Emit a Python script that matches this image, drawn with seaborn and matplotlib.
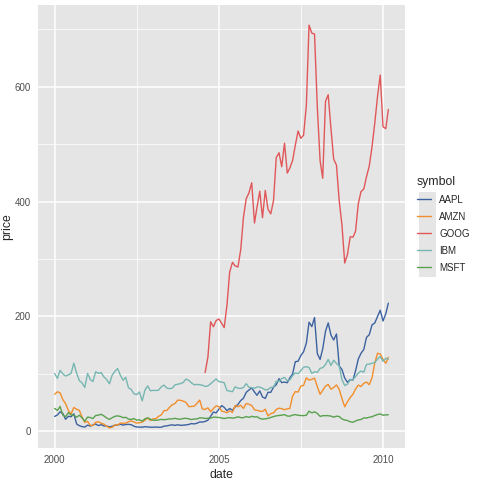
import numpy as np
import pandas as pd
import seaborn as sns
import matplotlib
matplotlib.use("Agg")
import matplotlib.pyplot as plt
import matplotlib.dates as mdates
from matplotlib.patches import Rectangle
from matplotlib.lines import Line2D

# Monthly closing prices, Jan 2000 - Mar 2010 (GOOG from Aug 2004)
msft = [39.81, 36.35, 43.22, 28.37, 25.45, 32.54, 28.4, 28.4, 24.53, 28.02, 23.34, 17.65,
        24.84, 24, 22.25, 27.56, 28.14, 29.7, 26.93, 23.21, 20.82, 23.65, 26.12, 26.95,
        25.92, 23.73, 24.53, 21.26, 20.71, 22.25, 19.52, 19.97, 17.79, 21.75, 23.46, 21.03,
        19.31, 19.34, 19.76, 20.87, 20.09, 20.93, 21.56, 21.65, 22.69, 21.45, 21.1, 22.46,
        22.69, 21.77, 20.46, 21.45, 21.53, 23.44, 23.38, 22.47, 22.76, 23.02, 24.6, 24.52,
        24.11, 23.15, 22.24, 23.28, 23.82, 22.93, 23.64, 25.35, 23.83, 23.8, 25.71, 24.29,
        26.14, 25.04, 25.36, 22.5, 21.19, 21.8, 22.51, 24.13, 25.68, 26.96, 27.66, 28.13,
        29.07, 26.63, 26.35, 28.3, 29.11, 27.95, 27.5, 27.34, 28.04, 35.03, 32.09, 34,
        31.13, 26.07, 27.21, 27.34, 27.25, 26.47, 24.75, 26.36, 25.78, 21.57, 19.66, 18.91,
        16.63, 15.81, 17.99, 19.84, 20.59, 23.42, 23.18, 24.43, 25.49, 27.48, 29.27, 30.34,
        28.05, 28.67, 28.8]
amzn = [64.56, 68.87, 67, 55.19, 48.31, 36.31, 30.12, 41.5, 38.44, 36.62, 24.69, 15.56,
        17.31, 10.19, 10.23, 15.78, 16.69, 14.15, 12.49, 8.94, 5.97, 6.98, 11.32, 10.82,
        14.19, 14.1, 14.3, 16.69, 18.23, 16.25, 14.45, 14.94, 15.93, 19.36, 23.35, 18.89,
        21.85, 22.01, 26.03, 28.69, 35.89, 36.32, 41.64, 46.32, 48.43, 54.43, 53.97, 52.62,
        50.4, 43.01, 43.28, 43.6, 48.5, 54.4, 38.92, 38.14, 40.86, 34.13, 39.68, 44.29,
        43.22, 35.18, 34.27, 32.36, 35.51, 33.09, 45.15, 42.7, 45.3, 39.86, 48.46, 47.15,
        44.82, 37.44, 36.53, 35.21, 34.61, 38.68, 26.89, 30.83, 32.12, 38.09, 40.34, 39.46,
        37.67, 39.14, 39.79, 61.33, 69.14, 68.41, 78.54, 79.91, 93.15, 89.15, 90.56, 92.64,
        77.7, 64.47, 71.3, 78.63, 81.62, 73.33, 76.34, 80.81, 72.76, 57.24, 42.7, 51.28,
        58.82, 64.79, 73.44, 80.52, 77.99, 83.66, 85.76, 81.19, 93.36, 118.81, 135.91, 134.52,
        125.41, 118.4, 128.82]
ibm = [100.52, 92.11, 106.11, 99.95, 96.31, 98.33, 100.74, 118.62, 101.19, 88.5, 84.12, 76.47,
       100.76, 89.98, 86.63, 103.7, 100.82, 102.35, 94.87, 90.25, 82.82, 97.58, 104.5, 109.36,
       97.54, 88.82, 94.15, 75.82, 72.97, 65.31, 63.86, 68.52, 53.01, 71.76, 79.16, 70.58,
       71.22, 71.13, 71.57, 77.47, 80.48, 75.42, 74.28, 75.12, 80.91, 81.96, 83.08, 85.05,
       91.06, 88.7, 84.41, 81.04, 81.59, 81.19, 80.19, 78.17, 79.13, 82.84, 87.15, 91.16,
       86.39, 85.78, 84.66, 70.77, 70.18, 68.93, 77.53, 75.07, 74.7, 76.25, 82.98, 76.73,
       75.89, 75.09, 77.17, 77.05, 75.04, 72.15, 72.7, 76.35, 77.26, 87.06, 86.95, 91.9,
       93.79, 88.18, 89.44, 96.98, 101.54, 100.25, 105.4, 111.54, 112.6, 111, 100.9, 103.7,
       102.75, 109.64, 110.87, 116.23, 125.14, 114.6, 123.74, 118.16, 113.53, 90.24, 79.65, 82.15,
       89.46, 90.32, 95.09, 101.29, 104.85, 103.01, 116.34, 117, 118.55, 119.54, 125.79, 130.32,
       121.85, 127.16, 125.55]
aapl = [25.94, 28.66, 33.95, 31.01, 21, 26.19, 25.41, 30.47, 12.88, 9.78, 8.25, 7.44,
        10.81, 9.12, 11.03, 12.74, 9.98, 11.62, 9.4, 9.27, 7.76, 8.78, 10.65, 10.95,
        12.36, 10.85, 11.84, 12.14, 11.65, 8.86, 7.63, 7.38, 7.25, 8.03, 7.75, 7.16,
        7.18, 7.51, 7.07, 7.11, 8.98, 9.53, 10.54, 11.31, 10.36, 11.44, 10.45, 10.69,
        11.28, 11.96, 13.52, 12.89, 14.03, 16.27, 16.17, 17.25, 19.38, 26.2, 33.53, 32.2,
        38.45, 44.86, 41.67, 36.06, 39.76, 36.81, 42.65, 46.89, 53.61, 57.59, 67.82, 71.89,
        75.51, 68.49, 62.72, 70.39, 59.77, 57.27, 67.96, 67.85, 76.98, 81.08, 91.66, 84.84,
        85.73, 84.61, 92.91, 99.8, 121.19, 122.04, 131.76, 138.48, 153.47, 189.95, 182.22, 198.08,
        135.36, 125.02, 143.5, 173.95, 188.75, 167.44, 158.95, 169.53, 113.66, 107.59, 92.67, 85.35,
        90.13, 89.31, 105.12, 125.83, 135.81, 142.43, 163.39, 168.21, 185.35, 188.5, 199.91, 210.73,
        192.06, 204.62, 223.02]
goog = [102.37, 129.6, 190.64, 181.98, 192.79,
        195.62, 187.99, 180.51, 220, 277.27, 294.15, 287.76, 286, 316.46, 372.14, 404.91, 414.86,
        432.66, 362.62, 390, 417.94, 371.82, 419.33, 386.6, 378.53, 401.9, 476.39, 484.81, 460.48,
        501.5, 449.45, 458.16, 471.38, 497.91, 522.7, 510, 515.25, 567.27, 707, 693, 691.48,
        564.3, 471.18, 440.47, 574.29, 585.8, 526.42, 473.75, 463.29, 400.52, 359.36, 292.96, 307.65,
        338.53, 337.99, 348.06, 395.97, 417.23, 421.59, 443.05, 461.67, 495.85, 536.12, 583, 619.98,
        529.94, 526.8, 560.19]

months = pd.date_range("2000-01-01", "2010-03-01", freq="MS")
goog_months = pd.date_range("2004-08-01", "2010-03-01", freq="MS")

symbols = ["AAPL", "AMZN", "GOOG", "IBM", "MSFT"]
colors = {"AAPL": "#3C62A0", "AMZN": "#F28E2B", "GOOG": "#E15759",
          "IBM": "#76B7B2", "MSFT": "#59A14F"}

frames = []
for sym, vals, dts in [("MSFT", msft, months), ("AMZN", amzn, months), ("IBM", ibm, months),
                       ("GOOG", goog, goog_months), ("AAPL", aapl, months)]:
    frames.append(pd.DataFrame({"date": dts, "price": vals, "symbol": sym}))
df = pd.concat(frames, ignore_index=True)

sns.set_style("white")
plt.rcParams["font.family"] = ["Liberation Sans", "DejaVu Sans"]

fig = plt.figure(figsize=(4.8, 4.8), dpi=100)
ax = fig.add_axes([38 / 480, 32 / 480, 367 / 480, 443 / 480])
ax.set_facecolor("#E5E5E5")

sns.lineplot(data=df, x="date", y="price", hue="symbol", hue_order=symbols,
             palette=colors, linewidth=1.0, ax=ax, legend=False, zorder=3)

# axis limits (ggplot-style 5% expansion)
x0 = mdates.date2num(pd.Timestamp("2000-01-01"))
x1 = mdates.date2num(pd.Timestamp("2010-03-01"))
pad = (x1 - x0) * 0.05
ax.set_xlim(x0 - pad, x1 + pad)
ax.set_ylim(-29, 742)

ax.set_xticks([mdates.date2num(pd.Timestamp(f"{y}-01-01")) for y in (2000, 2005, 2010)])
ax.set_xticklabels(["2000", "2005", "2010"])
ax.set_xticks([mdates.date2num(pd.Timestamp("2002-07-02")),
               mdates.date2num(pd.Timestamp("2007-07-02"))], minor=True)
ax.set_yticks([0, 200, 400, 600])
ax.set_yticks([100, 300, 500, 700], minor=True)

ax.grid(which="major", color="white", linewidth=1.1, zorder=0)
ax.grid(which="minor", color="white", linewidth=0.55, zorder=0)
ax.set_axisbelow(True)
for s in ax.spines.values():
    s.set_visible(False)

ax.tick_params(axis="both", which="major", length=3, width=0.8, color="#333333",
               labelsize=7, labelcolor="#4D4D4D", pad=2)
ax.tick_params(axis="both", which="minor", length=0)
ax.set_xlabel("date", fontsize=8.8, labelpad=3)
ax.set_ylabel("price", fontsize=8.8, labelpad=1)

# legend
fig.add_artist(Rectangle((419 / 480, (480 - 277) / 480), 17 / 480, 85 / 480,
                         transform=fig.transFigure, facecolor="#E5E5E5",
                         edgecolor="none"))
handles = [Line2D([], [], color=colors[s], linewidth=1.0) for s in symbols]
leg = fig.legend(handles, symbols, title="symbol", loc="upper left",
                 bbox_to_anchor=(413 / 480, (480 - 172) / 480), frameon=False,
                 fontsize=7, title_fontsize=8.8, handlelength=1.4,
                 handletextpad=0.9, labelspacing=0.72, borderaxespad=0)
leg._legend_box.align = "left"

fig.savefig("out.png", dpi=100)
